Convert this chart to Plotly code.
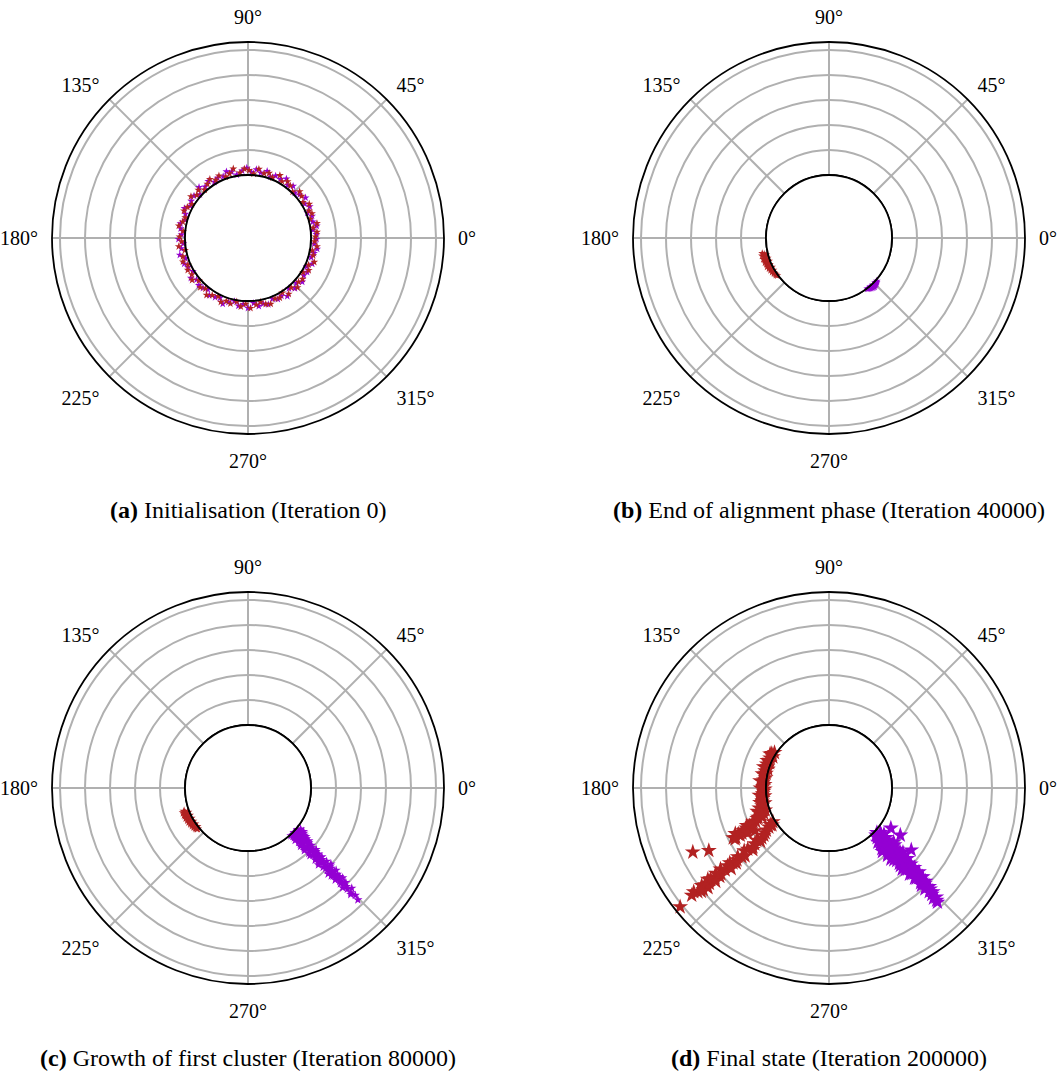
import numpy as np
import plotly.graph_objects as go

# ---------------- data ----------------
angle_ticks = [0, 45, 90, 135, 180, 225, 270, 315]
angle_labels = ["0°", "45°", "90°", "135°", "180°", "225°", "270°", "315°"]
radial_grid = [1, 2, 3, 4, 5]

captions = [
    "<b>(a)</b> Initialisation (Iteration 0)",
    "<b>(b)</b> End of alignment phase (Iteration 40000)",
    "<b>(c)</b> Growth of first cluster (Iteration 80000)",
    "<b>(d)</b> Final state (Iteration 200000)",
]

# (a)
a_red_theta = [1, 5, 9, 12, 17, 21, 24, 29, 33, 38,
               42, 46, 51, 55, 59, 63, 68, 72, 76, 81,
               85, 89, 93, 97, 102, 106, 110, 115, 119, 123,
               127, 132, 136, 140, 144, 149, 153, 157, 162, 166,
               170, 174, 179, 183, 187, 191, 196, 200, 204, 208,
               213, 217, 221, 226, 230, 234, 238, 243, 247, 251,
               255, 260, 264, 268, 272, 277, 281, 285, 289, 294,
               298, 302, 306, 311, 315, 319, 323, 328, 332, 336,
               340, 345, 349, 353, 357]
a_red_r = [0.18, 0.25, 0.12, 0.30, 0.08, 0.22, 0.15, 0.28, 0.10, 0.20,
           0.26, 0.05, 0.17, 0.24, 0.12, 0.29, 0.09, 0.21, 0.14, 0.27,
           0.06, 0.19, 0.25, 0.11, 0.31, 0.16, 0.08, 0.23, 0.13, 0.28,
           0.18, 0.07, 0.24, 0.15, 0.30, 0.10, 0.20, 0.26, 0.12, 0.17,
           0.29, 0.09, 0.22, 0.14, 0.27, 0.05, 0.19, 0.25, 0.11, 0.21,
           0.16, 0.28, 0.08, 0.23, 0.13, 0.30, 0.18, 0.10, 0.26, 0.15,
           0.20, 0.07, 0.24, 0.12, 0.29, 0.17, 0.09, 0.22, 0.27, 0.14,
           0.19, 0.06, 0.25, 0.11, 0.28, 0.16, 0.21, 0.08, 0.23, 0.13,
           0.30, 0.18, 0.10, 0.26, 0.15]
a_purple_theta = [3, 7, 10, 14, 19, 23, 27, 31, 35, 40,
                  44, 49, 53, 57, 61, 66, 70, 74, 79, 83,
                  87, 91, 95, 100, 104, 108, 112, 117, 121, 125,
                  130, 134, 138, 142, 147, 151, 155, 159, 164, 168,
                  172, 177, 181, 185, 189, 194, 198, 202, 206, 211,
                  215, 219, 224, 228, 232, 236, 241, 245, 249, 253,
                  258, 262, 266, 270, 275, 279, 283, 287, 292, 296,
                  300, 304, 309, 313, 317, 321, 326, 330, 334, 338,
                  343, 347, 351, 355, 359]
a_purple_r = [0.22, 0.10, 0.27, 0.15, 0.19, 0.06, 0.25, 0.13, 0.29, 0.17,
              0.08, 0.23, 0.12, 0.30, 0.16, 0.20, 0.09, 0.26, 0.14, 0.24,
              0.11, 0.28, 0.18, 0.05, 0.21, 0.27, 0.13, 0.17, 0.09, 0.25,
              0.15, 0.30, 0.07, 0.22, 0.19, 0.12, 0.28, 0.16, 0.10, 0.24,
              0.20, 0.14, 0.26, 0.08, 0.18, 0.29, 0.11, 0.23, 0.15, 0.06,
              0.27, 0.13, 0.21, 0.17, 0.09, 0.25, 0.19, 0.12, 0.30, 0.16,
              0.07, 0.22, 0.14, 0.28, 0.10, 0.24, 0.18, 0.26, 0.11, 0.20,
              0.15, 0.29, 0.08, 0.23, 0.13, 0.27, 0.17, 0.21, 0.09, 0.25,
              0.12, 0.19, 0.28, 0.14, 0.22]

# (b)
b_red_theta = [193, 194, 195, 196, 197, 198, 199, 200, 201, 202,
               203, 204, 205, 206, 207, 208, 209, 210, 211, 212,
               213, 214, 215, 216, 195, 198, 201, 204, 207, 210]
b_red_r = [0.22, 0.15, 0.25, 0.18, 0.12, 0.24, 0.20, 0.10, 0.22, 0.16,
           0.19, 0.13, 0.21, 0.14, 0.17, 0.11, 0.15, 0.09, 0.13, 0.08,
           0.10, 0.06, 0.07, 0.04, 0.08, 0.06, 0.05, 0.07, 0.04, 0.05]
b_purple_theta = [307, 308, 309, 310, 311, 312, 313, 314, 315, 316, 317, 318, 310, 313, 316]
b_purple_r = [0.03, 0.05, 0.08, 0.10, 0.12, 0.14, 0.15, 0.13, 0.12, 0.10, 0.08, 0.05, 0.04, 0.06, 0.05]

# (c)
c_red_theta = [200, 201, 202, 203, 204, 205, 206, 207, 208, 209,
               210, 211, 212, 213, 214, 215, 216, 217, 218, 219,
               202, 205, 208, 211, 214, 217]
c_red_r = [0.20, 0.25, 0.18, 0.24, 0.22, 0.19, 0.23, 0.17, 0.21, 0.16,
           0.20, 0.15, 0.18, 0.13, 0.16, 0.12, 0.14, 0.10, 0.11, 0.08,
           0.08, 0.07, 0.06, 0.06, 0.05, 0.04]
c_purple_theta = [312, 314, 316, 318, 320, 322, 313, 315, 317, 319, 321, 314, 316, 318, 320,
                  313, 315, 317, 319, 314, 316, 318, 312, 315, 317, 313, 316, 318, 314, 315, 317, 313, 316,
                  314, 316, 312.5, 315, 317, 313.5, 315.5, 317.5, 314, 316, 313, 315, 317, 314, 316,
                  313.5, 315, 316.5, 314, 315.5, 313.5, 315, 314.5, 316, 314, 315, 314.5,
                  313, 315, 317, 319, 321, 312, 314, 316, 318, 320, 322, 313, 315, 317, 319, 312,
                  314, 316, 318, 313, 315, 317, 314, 316, 312.5, 315, 313.5, 317, 315, 314,
                  316.5, 314.5, 316, 313.5, 315, 314.5, 316, 314.5, 316, 314.5]
c_purple_r = [0.05, 0.08, 0.04, 0.10, 0.06, 0.15, 0.20, 0.25, 0.18, 0.30, 0.35, 0.40, 0.45, 0.38, 0.50,
              0.55, 0.60, 0.65, 0.58, 0.72, 0.80, 0.75, 0.85, 0.92, 0.98, 1.05, 1.10, 1.15, 1.22, 1.30, 1.35, 1.42, 1.48,
              1.55, 1.60, 1.65, 1.72, 1.78, 1.85, 1.92, 1.98, 2.05, 2.10, 2.18, 2.25, 2.30, 2.38, 2.45,
              2.55, 2.62, 2.70, 2.80, 2.88, 2.98, 3.05, 3.15, 3.25, 3.40, 3.55, 3.75,
              0.12, 0.15, 0.22, 0.12, 0.25, 0.30, 0.33, 0.28, 0.48, 0.42, 0.30, 0.45, 0.52, 0.55, 0.70, 0.62,
              0.85, 0.95, 0.90, 0.78, 1.02, 1.20, 1.38, 1.25, 1.15, 1.45, 1.58, 1.52, 1.82, 1.95,
              2.02, 2.15, 2.28, 2.32, 2.42, 2.52, 2.58, 2.72, 2.92, 3.35]

# (d)
d_red_theta = [147, 149, 151, 153, 155, 157, 159, 161, 163, 165,
               167, 169, 171, 173, 175, 177, 179, 181, 183, 185,
               187, 189, 191, 193, 195, 197, 199, 201,
               203.4, 202.5, 204, 204.5, 205.5, 206, 206.5, 207.4, 207, 207.5, 208, 213,
               205.2, 207.5,
               211, 213, 215, 216.7, 216, 217.8, 217, 218.4, 218, 218, 218.3, 217.5,
               218.5, 218, 217.5, 218.6, 218, 219, 218.4, 217.5, 218.6,
               150, 156, 162, 168, 174, 180, 186, 192, 196, 200, 198, 202,
               203, 205, 206, 204.5, 206.5, 208, 206, 208.5, 209, 210,
               212, 214, 216, 218, 217, 219, 216.5, 219, 217, 219, 217, 219.5,
               216.8, 219, 217, 219.5, 217, 219.5, 217.5, 219, 218]
d_red_r = [0.08, 0.15, 0.05, 0.12, 0.10, 0.06, 0.14, 0.09, 0.04, 0.12,
           0.07, 0.11, 0.05, 0.10, 0.13, 0.06, 0.12, 0.05, 0.10, 0.14,
           0.08, 0.16, 0.20, 0.12, 0.25, 0.30, 0.18, 0.28,
           0.40, 0.55, 0.80, 0.70, 1.00, 1.15, 1.25, 1.40, 1.55, 1.80, 1.70, 0.20,
           3.50, 2.90,
           0.10, 0.35, 0.60, 0.83, 1.05, 1.33, 1.55, 1.92, 2.15, 2.35, 2.77, 2.60,
           3.00, 3.27, 3.45, 3.60, 3.78, 3.95, 4.17, 4.30, 5.10,
           0.20, 0.18, 0.22, 0.20, 0.25, 0.22, 0.28, 0.30, 0.38, 0.45, 0.50, 0.38,
           0.60, 0.85, 0.95, 1.10, 1.30, 1.50, 1.65, 1.75, 1.20, 0.90,
           0.25, 0.50, 0.70, 0.95, 1.20, 1.40, 1.70, 1.80, 2.05, 2.25, 2.45, 2.55,
           2.90, 3.10, 3.15, 3.35, 3.55, 3.75, 3.90, 4.05, 4.45]
d_purple_theta = [317, 319, 314, 312, 316, 320, 318, 313, 310, 315,
                  320, 317, 312, 314, 318, 311, 316, 319, 313, 315,
                  317, 312.5, 314, 316.5, 313, 315, 317, 314, 316, 313.5,
                  315, 316.5, 314, 315, 313.5, 315, 314, 313.5,
                  327, 326.5, 323,
                  315, 318, 313, 316, 319, 311, 314, 317, 319, 311,
                  313, 315, 316, 318, 312, 314, 317, 313, 316, 318,
                  312, 315, 317, 314, 316, 313, 315, 317, 314, 316,
                  315, 313.5, 316, 314.5, 315.5, 314, 315, 313.5, 314.5, 313.8]
d_purple_r = [0.10, 0.20, 0.25, 0.40, 0.45, 0.35, 0.60, 0.65, 0.80, 0.75,
              0.85, 0.95, 1.00, 1.10, 1.15, 1.25, 1.30, 1.40, 1.45, 1.55,
              1.65, 1.70, 1.80, 1.85, 1.95, 2.05, 2.15, 2.25, 2.35, 2.45,
              2.55, 2.65, 2.75, 2.90, 3.05, 3.20, 3.40, 3.78,
              0.43, 0.90, 1.60,
              0.15, 0.30, 0.50, 0.55, 0.50, 0.70, 0.70, 0.80, 0.95, 1.05,
              0.90, 1.00, 1.15, 1.30, 1.35, 1.40, 1.45, 1.60, 1.55, 1.70,
              1.85, 1.80, 1.95, 2.00, 2.10, 2.20, 2.30, 2.40, 2.50, 2.60,
              2.70, 2.85, 2.85, 3.00, 3.10, 3.25, 3.35, 3.55, 3.60, 3.70]

RED = "#b22222"
PURPLE = "#9400d3"
R_MAX = 5.32

panels = [
    ("polar", a_red_theta, a_red_r, a_purple_theta, a_purple_r, 6),
    ("polar2", b_red_theta, b_red_r, b_purple_theta, b_purple_r, 6),
    ("polar3", c_red_theta, c_red_r, c_purple_theta, c_purple_r, 7),
    ("polar4", d_red_theta, d_red_r, d_purple_theta, d_purple_r, 12),
]

W, H = 1060, 1072
centres = [(248, 238), (829, 238), (248, 788), (829, 788)]
R_PX = 196
HOLE_PX = 63
SERIF = "Liberation Serif"

fig = go.Figure()
ring_theta = np.linspace(0, 360, 361)
for i, (name, rt, rr, pt, pr, ms) in enumerate(panels):
    red_tr = go.Scatterpolar(theta=rt, r=rr, mode="markers", subplot=name,
                             marker=dict(symbol="star", size=ms, color=RED, line=dict(width=0)),
                             showlegend=False, hoverinfo="skip")
    pur_tr = go.Scatterpolar(theta=pt, r=pr, mode="markers", subplot=name,
                             marker=dict(symbol="star", size=ms, color=PURPLE, line=dict(width=0)),
                             showlegend=False, hoverinfo="skip")
    order = [pur_tr, red_tr] if i == 0 else [red_tr, pur_tr]
    for tr in order:
        fig.add_trace(tr)
    fig.add_trace(go.Scatterpolar(theta=ring_theta, r=[0] * len(ring_theta), mode="lines",
                                  subplot=name, line=dict(color="black", width=1.8),
                                  cliponaxis=False, showlegend=False, hoverinfo="skip"))

layout = dict(width=W, height=H, margin=dict(l=0, r=0, t=0, b=0),
              paper_bgcolor="white", plot_bgcolor="white",
              font=dict(family=SERIF, color="black", size=20))

for (name, *_), (cx, cy) in zip(panels, centres):
    layout[name] = dict(
        domain=dict(x=[(cx - R_PX) / W, (cx + R_PX) / W],
                    y=[1 - (cy + R_PX) / H, 1 - (cy - R_PX) / H]),
        hole=HOLE_PX / R_PX,
        bgcolor="white",
        radialaxis=dict(range=[0, R_MAX], tickvals=radial_grid, showticklabels=False,
                        ticks="", showline=False, gridcolor="#b0b0b0", gridwidth=1.5),
        angularaxis=dict(direction="counterclockwise", rotation=0,
                         tickvals=angle_ticks, ticktext=angle_labels,
                         ticks="outside", ticklen=9, tickcolor="rgba(0,0,0,0)",
                         gridcolor="#b0b0b0", gridwidth=1.5,
                         linecolor="black", linewidth=1.8,
                         tickfont=dict(family=SERIF, size=20, color="black")),
    )

fig.update_layout(**layout)

cap_pos = [(248, 510), (829, 510), (248, 1058), (829, 1058)]
for txt, (x, y) in zip(captions, cap_pos):
    fig.add_annotation(text=txt, x=x / W, y=1 - y / H, xref="paper", yref="paper",
                       xanchor="center", yanchor="middle", showarrow=False,
                       font=dict(family=SERIF, size=24, color="black"))

fig.write_html("out.html", config={"displayModeBar": False},
               post_script="document.body.style.margin='0';document.body.style.overflow='hidden';")
